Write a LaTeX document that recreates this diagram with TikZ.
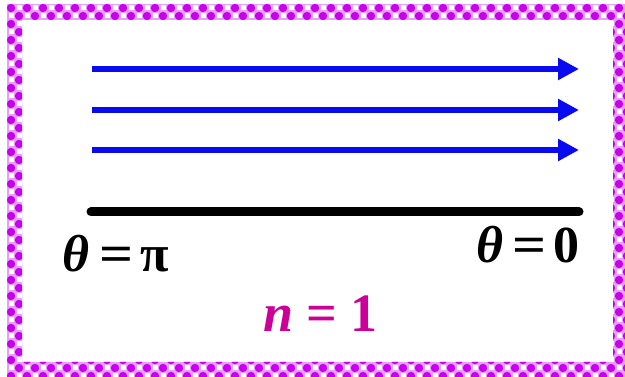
\documentclass[tikz,border=0pt]{standalone}
\usepackage{fontspec}
\setmainfont{Liberation Serif}
\usetikzlibrary{arrows.meta}
\definecolor{arrowblue}{RGB}{10,10,240}
\definecolor{textmag}{RGB}{204,0,153}
\definecolor{ballmag}{RGB}{200,0,240}
\definecolor{bandbg}{RGB}{232,160,245}
\newcommand{\wideeq}{\scalebox{1.15}[1]{=}}
\tikzset{
  flow/.style={draw=arrowblue, line width=5.5pt, -{Triangle[length=21pt,width=21pt]}},
  base line/.style={draw=black, line width=9pt, line cap=round},
  lbl/.style={inner sep=0pt, anchor=base west, font=\fontsize{52}{56}\selectfont\bfseries},
  ball/.style={fill=ballmag},
  gap/.style={fill=white}
}
\begin{document}
\begin{tikzpicture}[x=1pt,y=-1pt]
\useasboundingbox (0,0) rectangle (625,377);
% decorative border
\begin{scope}[even odd rule]
  \clip (7,4) rectangle (625,377) (22,20) rectangle (613,362);
  \fill[bandbg] (7,4) rectangle (625,377);
  \foreach \j in {0,1,44,45,46} {
    \foreach \i in {0,...,77} {
      \pgfmathtruncatemacro{\pp}{mod(\i+\j,2)}
      \ifnum\pp=0
        \fill[ball] ({11+8*\i},{8+8*\j}) circle (4.2);
      \else
        \fill[gap] ({8.5+8*\i},{5.5+8*\j}) rectangle ({13.5+8*\i},{10.5+8*\j});
      \fi
    }
  }
  \foreach \i in {0,1,75,76,77} {
    \foreach \j in {2,...,43} {
      \pgfmathtruncatemacro{\pp}{mod(\i+\j,2)}
      \ifnum\pp=0
        \fill[ball] ({11+8*\i},{8+8*\j}) circle (4.2);
      \else
        \fill[gap] ({8.5+8*\i},{5.5+8*\j}) rectangle ({13.5+8*\i},{10.5+8*\j});
      \fi
    }
  }
\end{scope}
% arrows
\coordinate (a1s) at (92,69);  \coordinate (a1e) at (579,69);
\coordinate (a2s) at (92,110); \coordinate (a2e) at (579,110);
\coordinate (a3s) at (92,150); \coordinate (a3e) at (579,150);
\draw[flow] (a1s) -- (a1e);
\draw[flow] (a2s) -- (a2e);
\draw[flow] (a3s) -- (a3e);
% base line
\coordinate (ls) at (91,212); \coordinate (le) at (579,212);
\draw[base line] (ls) -- (le);
% labels
\node[lbl] (tpi) at (62,272) {\makebox[37pt][l]{\itshape θ}\makebox[41pt][l]{\wideeq}π};
\node[lbl] (tzero) at (476,263) {\makebox[36pt][l]{\itshape θ}\makebox[41pt][l]{\wideeq}0};
\node[lbl, text=textmag, font=\fontsize{54}{58}\selectfont\bfseries] (n1) at (263,332) {\itshape n\upshape{} = 1};
\end{tikzpicture}
\end{document}
